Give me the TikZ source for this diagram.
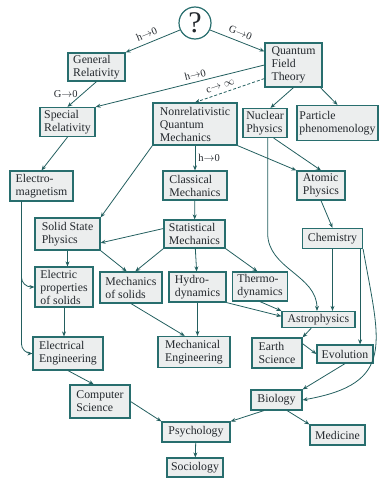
\documentclass[tikz,border=0pt]{standalone}
\usepackage{fontspec}
\setmainfont{Liberation Serif}
\usetikzlibrary{arrows.meta}

\definecolor{linec}{RGB}{35,95,95}
\definecolor{boxc}{RGB}{40,110,110}
\definecolor{fillc}{RGB}{236,238,238}
\definecolor{textc}{RGB}{35,40,45}

\tikzset{
    field/.style={draw=boxc, fill=fillc, line width=1.2pt, text=textc, align=left,
        inner xsep=2pt, inner ysep=1pt, font=\fontsize{11.8}{13}\selectfont},
    limit/.style={font=\fontsize{10.5}{11}\selectfont, text=textc, inner sep=1pt},
}

\begin{document}
\begin{tikzpicture}[x=1pt, y=-1pt, >={Stealth[length=5pt,width=4pt]}, line width=0.8pt, color=linec]
            \useasboundingbox (0,0) rectangle (379,479);
            % theories
            \node[circle, draw=boxc, line width=1.2pt, fill=white, minimum size=32pt, inner sep=0pt,
                font=\fontsize{30}{30}\selectfont, text=textc] (q) at (195,23) {?};
            \node[field, minimum width=57, minimum height=28] (gr) at (96.5,67) {General\\Relativity};
            \node[field, minimum width=55, minimum height=29] (sr) at (67.5,122) {Special\\Relativity};
            \node[field, minimum width=57, minimum height=44] (qft) at (293.5,65) {Quantum\\Field\\Theory};
            \node[field, minimum width=84, minimum height=42] (nqm) at (195,124) {Nonrelativistic\\Quantum\\Mechanics};
            \node[field, minimum width=44, minimum height=29] (np) at (265,123) {Nuclear\\Physics};
            \node[field, minimum width=81, minimum height=35] (pp) at (337.5,123) {Particle\\phenomenology};
            \node[field, minimum width=63, minimum height=30] (em) at (41.5,186) {Electro-\\magnetism};
            \node[field, minimum width=64, minimum height=29] (cm) at (195,185.5) {Classical\\Mechanics};
            \node[field, minimum width=48, minimum height=29] (ap) at (321,185.5) {Atomic\\Physics};
            \node[field, minimum width=65, minimum height=32] (ssp) at (67.5,234) {Solid State\\Physics};
            \node[field, minimum width=61, minimum height=28] (sm) at (194.5,234) {Statistical\\Mechanics};
            \node[field, minimum width=60, minimum height=20] (chem) at (332.5,238.5) {Chemistry};
            \node[field, minimum width=58, minimum height=40] (eps) at (64,287) {Electric\\properties\\of solids};
            \node[field, minimum width=62, minimum height=31] (mos) at (131,287.5) {Mechanics\\of solids};
            \node[field, minimum width=57, minimum height=30] (hydro) at (197.5,287) {Hydro-\\dynamics};
            \node[field, minimum width=55, minimum height=29] (thermo) at (260,286.5) {Thermo-\\dynamics};
            \node[field, minimum width=73, minimum height=16] (astro) at (318.5,319.5) {Astrophysics};
            % applied sciences
            \node[field, minimum width=70, minimum height=33] (ee) at (68,353.5) {Electrical\\Engineering};
            \node[field, minimum width=72, minimum height=31] (me) at (194,352) {Mechanical\\Engineering};
            \node[field, minimum width=50, minimum height=30] (es) at (277,353) {Earth\\Science};
            \node[field, minimum width=56, minimum height=18] (evo) at (345,354) {Evolution};
            \node[field, minimum width=60, minimum height=33] (cs) at (100,401.5) {Computer\\Science};
            \node[field, minimum width=51, minimum height=20] (bio) at (276.5,400) {Biology};
            \node[field, minimum width=68, minimum height=20] (psy) at (196,432) {Psychology};
            \node[field, minimum width=55, minimum height=20] (med) at (337.5,435) {Medicine};
            \node[field, minimum width=56, minimum height=19] (soc) at (195,467.5) {Sociology};
            % limits
            \draw[->] (q.205) -- (gr.north east) node[pos=0.55, sloped, above=4pt, limit] {h$\rightarrow$0};
            \draw[->] (q.335) -- (qft.155) node[pos=0.5, sloped, above=4pt, limit] {G$\rightarrow$0};
            \draw[->] (gr.south) -- (sr.north) node[midway, left=3pt, limit] {G$\rightarrow$0};
            \draw[->] (qft.west) -- (sr.north east) node[pos=0.4, sloped, above=2pt, limit] {h$\rightarrow$0};
            \draw[->, dash pattern=on 3pt off 2pt] (qft.205) -- (nqm.north)
                node[pos=0.6, sloped, above=3pt, limit] {c$\rightarrow\infty$};
            \draw[->] (nqm) -- (cm) node[midway, right=2pt, limit] {h$\rightarrow$0};
            % everything else
            \draw[->] (qft.south) -- (np.70);
            \draw[->] (qft.-40) -- (pp.north);
            \draw[->] (sr.south) -- (em.north);
            \draw[->] (nqm.south west) -- (ssp.north east);
            \draw[->] (nqm.south east) -- (ap.north west);
            \draw[->] (np.-60) -- (ap.north);
            \draw[->] (np.-80) -- ++(0,95) to[out=-90, in=90] (astro.100);
            \draw[->] (ap.south) -- (chem.north);
            \draw[->] (cm) -- (sm);
            \draw[->] (sm.170) -- (ssp.-15);
            \draw[->] (sm.south west) -- (mos.75);
            \draw[->] (ssp.south east) -- (mos.105);
            \draw[->] (ssp) -- (ssp |- eps.north);
            \coordinate (emb) at ([xshift=12pt]em.south west);
            \draw[->, rounded corners=10pt] (emb) |- (eps.west);
            \draw[->, rounded corners=10pt] (emb) |- (ee.west);
            \draw[->] (sm) -- (hydro);
            \draw[->] (sm.south east) -- (thermo.100);
            \draw[->] (eps) -- (eps |- ee.north);
            \draw[->] (mos.south) -- (me.120);
            \draw[->] (hydro) -- (hydro |- me.north);
            \draw[->] (hydro.south east) -- (astro.175);
            \draw[->] (thermo.south) -- (astro.north west);
            \draw[->] (chem) -- (chem |- astro.north);
            \draw[->] ([xshift=-3pt]chem.south east) -- ([xshift=-3pt]chem.south east |- evo.north);
            \draw[->] (chem.south east) to[out=-80, in=10, looseness=1.5] (bio.east);
            \draw[->] (astro.-130) -- (es.north east);
            \draw[->] (es.20) -- (evo.west);
            \draw[->] (evo.south) -- (bio.north east);
            \draw[->] (bio.-140) -- (psy.north east);
            \draw[->] (bio.-45) -- (med.north west);
            \draw[->] (cs.east) -- (psy.north west);
            \draw[->] (ee.south) -- (cs.110);
            \draw[->] (psy) -- (soc);
\end{tikzpicture}
\end{document}
